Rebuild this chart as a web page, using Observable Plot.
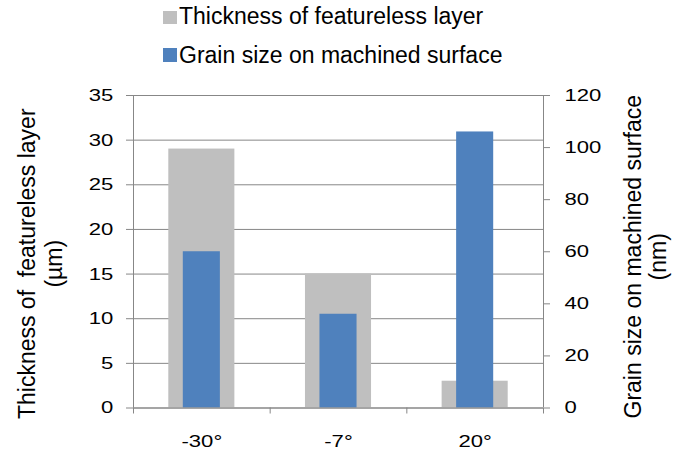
<!DOCTYPE html>
<html><head><meta charset="utf-8">
<script src="https://cdn.jsdelivr.net/npm/d3@7"></script>
<script src="https://cdn.jsdelivr.net/npm/@observablehq/plot@0.6"></script>
<style>
body{margin:0;background:#fff;font-family:"Liberation Sans",Arial,sans-serif;}
#wrap{position:relative;width:673px;height:454px;}
#wrap svg{position:absolute;left:0;top:0;}
.sw{position:absolute;width:14px;height:13.5px;z-index:2}
.lt{position:absolute;font-size:23px;line-height:23px;color:#000;white-space:nowrap;z-index:2}
</style></head><body><div id="wrap"></div>
<script>
const categories = ["-30°", "-7°", "20°"];
const thickness = [29, 15, 3];        // µm, left axis
const grain = [60, 36, 106];          // nm, right axis
const leftTicks = [0, 5, 10, 15, 20, 25, 30, 35];
const rightTicks = [0, 20, 40, 60, 80, 100, 120];
const seriesNames = ["Thickness of featureless layer", "Grain size on machined surface"];
const colors = ["#bfbfbf", "#4f81bd"];
const leftTitle = "Thickness of  featureless layer\n(µm)";
const rightTitle = "Grain size on machined surface\n(nm)";

const leftMax = 35, rightMax = 120;
const k = leftMax / rightMax;
const rows = categories.map((c, i) => ({i, c, t: thickness[i], g: grain[i]}));
const bounds = d3.range(categories.length + 1);
const centers = categories.map((c, i) => i + 0.5);
const axisColor = "#878787";

const plot = Plot.plot({
  width: 673, height: 454,
  marginLeft: 133, marginRight: 130, marginTop: 95, marginBottom: 46.5,
  style: {fontFamily: '"Liberation Sans", Arial, sans-serif', fontSize: "17px", background: "transparent"},
  x: {type: "linear", domain: [0, categories.length], axis: null},
  y: {domain: [0, leftMax], axis: null, label: null},
  marks: [
    Plot.gridY(leftTicks, {stroke: "#878787", strokeOpacity: 1}),
    Plot.rectY(rows, {x1: d => d.i, x2: d => d.i + 1, y: "t", fill: colors[0], insetLeft: 35.3, insetRight: 35.3}),
    Plot.rectY(rows, {x1: d => d.i, x2: d => d.i + 1, y: d => d.g * k, fill: colors[1], insetLeft: 49.8, insetRight: 49.8}),
    Plot.ruleX([0, categories.length], {stroke: axisColor}),
    Plot.ruleY([0], {stroke: axisColor}),
    Plot.axisY(leftTicks, {anchor: "left", label: null, tickSize: 7, tickPadding: 13.3, stroke: axisColor, fill: "#000", fontSize: 17}),
    Plot.axisY(rightTicks, {anchor: "right", label: null, y: d => d * k, tickSize: 6, tickPadding: 15, stroke: axisColor, fill: "#000", fontSize: 17, tickFormat: d => d}),
    Plot.axisX(bounds, {anchor: "bottom", label: null, tickSize: 6, stroke: axisColor, tickFormat: () => ""}),
    Plot.axisX(centers, {anchor: "bottom", label: null, tickSize: 0, tickPadding: 27, fill: "#000", fontSize: 17, tickFormat: d => categories[Math.round(d - 0.5)]}),
    Plot.text([leftTitle], {frameAnchor: "left", textAnchor: "middle", rotate: -90, dx: -94, dy: 12, fontSize: 23, lineHeight: 1.2, fill: "#000"}),
    Plot.text([rightTitle], {frameAnchor: "right", textAnchor: "middle", rotate: -90, dx: 102, dy: 5, fontSize: 23, lineHeight: 1.1, fill: "#000"})
  ]
});
// widen the tick labels horizontally, as in the reference
d3.select(plot).selectAll('g[aria-label$="tick label"] text').each(function () {
  const t = d3.select(this);
  const tr = t.attr("transform");
  if (tr) t.attr("transform", tr + " scale(1.3,1)");
  else {
    const x = +t.attr("x") || 0, y = +t.attr("y") || 0;
    t.attr("x", null).attr("y", null).attr("transform", `translate(${x},${y}) scale(1.3,1)`);
  }
});
const wrap = document.getElementById("wrap");
wrap.appendChild(plot);
const legTops = [10.7, 48.3], textTops = [4.5, 43.8];
seriesNames.forEach((name, j) => {
  const s = document.createElement("div");
  s.className = "sw";
  s.style.left = "163px"; s.style.top = legTops[j] + "px"; s.style.background = colors[j];
  wrap.appendChild(s);
  const t = document.createElement("div");
  t.className = "lt";
  t.style.left = "179px"; t.style.top = textTops[j] + "px";
  t.textContent = name;
  wrap.appendChild(t);
});
</script></body></html>
